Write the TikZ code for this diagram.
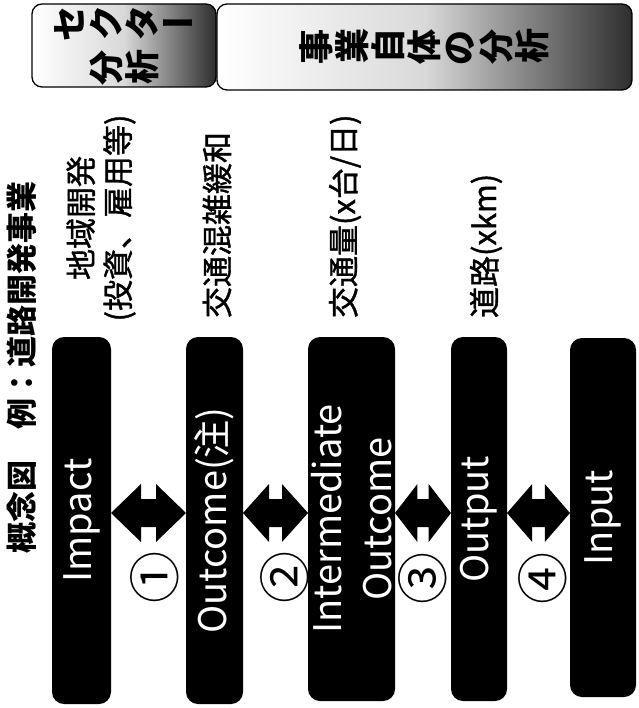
\documentclass[tikz,border=0pt]{standalone}
\usepackage{fontspec}
\setmainfont{Noto Sans CJK JP}
\newfontfamily\labelfont[FakeBold=1.2]{Noto Sans CJK JP}
\usetikzlibrary{calc}
\newcommand\tate[1]{\makebox[1.03em]{\rotatebox[origin=c]{90}{#1}}}
\newcommand\tatebar{\makebox[1.03em]{ー}}

\begin{document}
\begin{tikzpicture}[x=1pt, y=-1pt,
  every node/.style={inner sep=0pt, outer sep=0pt},
  bar/.style={fill=black, rounded corners=12pt, rotate=90, text=white, align=center, font=\fontsize{38}{50}\selectfont},
  lbl/.style={rotate=90, font=\labelfont\fontsize{31}{37}\selectfont},
  num/.style={rotate=90, font=\fontsize{52}{52}\selectfont},
  head/.style={draw=black, line width=1.3pt, rounded corners=10pt, left color=white, right color=black!82, middle color=black!15, align=center, font=\fontsize{35}{44}\selectfont\bfseries},
  bigarrow/.style={fill=black, to path={(\tikztostart)
    -- ($(\tikztostart)!.4!(\tikztotarget)+(0pt,29pt)$) -- ($(\tikztostart)!.4!(\tikztotarget)+(0pt,14pt)$)
    -- ($(\tikztostart)!.6!(\tikztotarget)+(0pt,14pt)$) -- ($(\tikztostart)!.6!(\tikztotarget)+(0pt,29pt)$)
    -- (\tikztotarget)
    -- ($(\tikztostart)!.6!(\tikztotarget)+(0pt,-29pt)$) -- ($(\tikztostart)!.6!(\tikztotarget)+(0pt,-14pt)$)
    -- ($(\tikztostart)!.4!(\tikztotarget)+(0pt,-14pt)$) -- ($(\tikztostart)!.4!(\tikztotarget)+(0pt,-29pt)$)
    -- cycle}}]
\useasboundingbox (0,0) rectangle (638,708);

\node[head, minimum width=184, minimum height=83] (sector) at (124,45.5) {\tate{セ}\tate{ク}\tate{タ}\tatebar\\\tate{分}\tate{析}};
\node[head, minimum width=415, minimum height=86] (project) at (424.5,47) {\tate{事}\tate{業}\tate{自}\tate{体}\tate{の}\tate{分}\tate{析}};

\node[lbl, anchor=west, font=\fontsize{31}{37}\selectfont\bfseries] (title) at (22,553) {概念図　例：道路開発事業};
\node[lbl, align=center] (impactlbl) at (101,218) {地域開発\\(投資、雇用等)};
\node[lbl, anchor=west] (outcomelbl) at (217,318) {交通混雑緩和};
\node[lbl, anchor=west] (interlbl) at (345,318) {交通量(x台/日)};
\node[lbl, anchor=west] (outputlbl) at (486,318) {道路(xkm)};

\node[bar, minimum width=367, minimum height=59] (impact) at (81.5,520.5) {Impact};
\node[bar, minimum width=367, minimum height=57] (outcome) at (214.5,520.5) {Outcome(注)};
\node[bar, minimum width=364, minimum height=87] (inter) at (351.5,519) {Intermediate\\Outcome};
\node[bar, minimum width=364, minimum height=56] (output) at (479,519) {Output};
\node[bar, minimum width=359, minimum height=66] (input) at (603,517.5) {Input};

\path[bigarrow] (impact.south |- 0,513) to (outcome.north |- 0,513);
\path[bigarrow] (outcome.south |- 0,513) to (inter.north |- 0,513);
\path[bigarrow] (inter.south |- 0,513) to (output.north |- 0,513);
\path[bigarrow] (output.south |- 0,513) to (input.north |- 0,513);

\node[num] (n1) at (155,577) {①};
\node[num] (n2) at (285,577) {②};
\node[num] (n3) at (423,578) {③};
\node[num] (n4) at (543,578) {④};
\end{tikzpicture}
\end{document}
